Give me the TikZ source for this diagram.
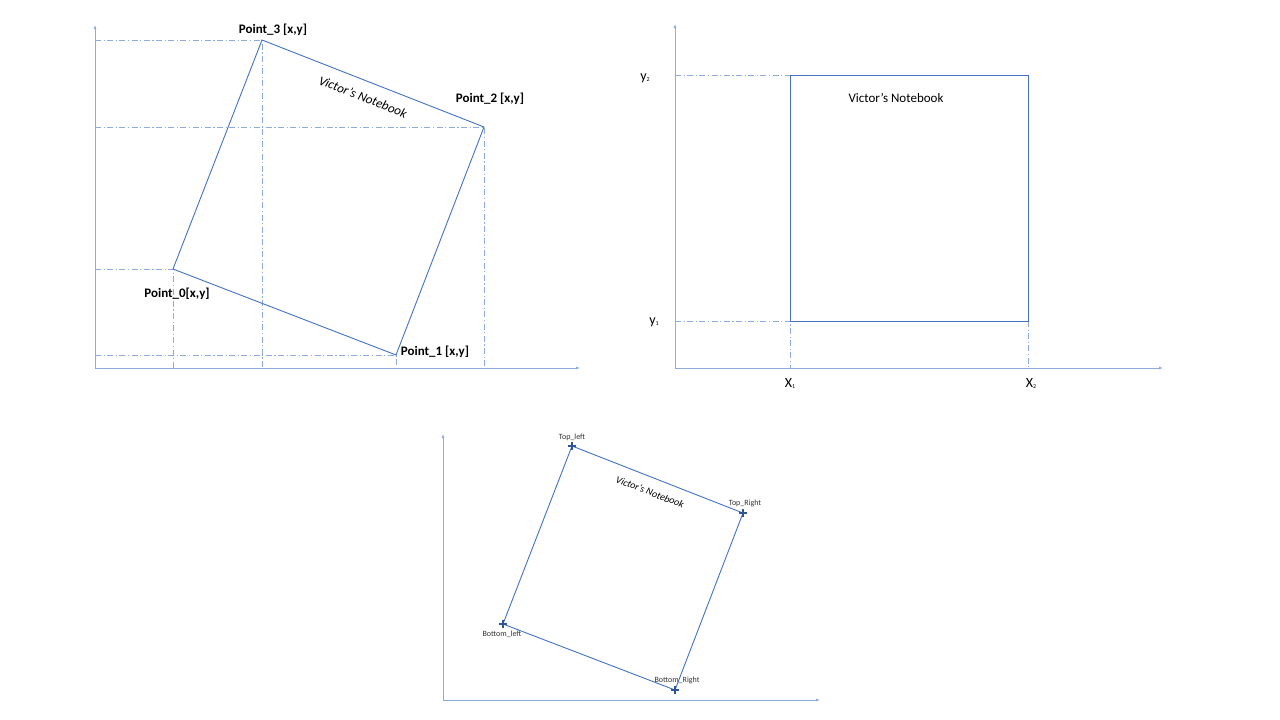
\documentclass[tikz,border=0pt]{standalone}
\usepackage{fontspec}
\setmainfont{Carlito}
\usetikzlibrary{arrows.meta,positioning}
\definecolor{VNblue}{RGB}{68,114,196}
\definecolor{VNlight}{RGB}{143,170,220}
\definecolor{VNdark}{RGB}{47,85,151}
\newcommand{\tinysub}[1]{\raisebox{-1pt}{\fontsize{6}{6}\selectfont #1}}
\tikzset{
  axes/.style={{Latex[length=4pt,width=3pt]}-{Latex[length=4pt,width=3pt]},line width=0.8pt,draw=VNlight},
  guide/.style={draw=VNlight,line width=0.8pt,dash pattern=on 6pt off 2.5pt on 1.2pt off 2.5pt},
  edge/.style={draw=VNblue,line width=0.9pt},
  cross/.style={draw=VNdark,line width=1.3pt},
  ptlabel/.style={font=\fontsize{13}{15}\selectfont\bfseries,text=black,inner sep=0pt},
  cornerlabel/.style={font=\fontsize{8}{9}\selectfont,text=black!80,inner sep=0pt},
  axlabel/.style={font=\fontsize{14}{16}\selectfont,text=black,inner sep=0pt},
  title/.style={font=\fontsize{13}{15}\selectfont,text=black,inner sep=0pt},
}

\begin{document}
\begin{tikzpicture}[x=1pt,y=-1pt]
    \useasboundingbox[fill=white] (0,0) rectangle (1280,720);
    % first panel: rotated notebook with its four points
    \coordinate (t1) at (95,25);
    \coordinate (o1) at (95,368);
    \coordinate (r1) at (580,368);
    \coordinate (p0) at (173,269);
    \coordinate (p1) at (396,355);
    \coordinate (p2) at (484,127);
    \coordinate (p3) at (262,40);
    \draw[guide] (p3 -| o1) -- (p3) -- (p3 |- o1);
    \draw[guide] (p2 -| o1) -- (p2) -- (p2 |- o1);
    \draw[guide] (p0 -| o1) -- (p0) -- (p0 |- o1);
    \draw[guide] (p1 -| o1) -- (p1) -- (p1 |- o1);
    \draw[axes] (t1) -- (o1) -- (r1);
    \draw[edge] (p0) -- (p1) -- (p2) -- (p3) -- cycle;
    \node[ptlabel] (l3) at (273,30) {Point\_3 [x,y]};
    \node[ptlabel] (l2) at (490,99) {Point\_2 [x,y]};
    \node[ptlabel] (l0) at (177,294) {Point\_0[x,y]};
    \node[ptlabel] (l1) at (435,352) {Point\_1 [x,y]};
    \node[title,font=\fontsize{13}{15}\selectfont\itshape,rotate=-21.3] (nb1) at (363,97) {Victor’s Notebook};

    % second panel: axis aligned box
    \coordinate (t2) at (675,24);
    \coordinate (o2) at (675,368);
    \coordinate (r2) at (1163,368);
    \coordinate (b2) at (790,321);
    \coordinate (c2) at (1028,75);
    \draw[guide] (c2 -| o2) -- (c2 -| b2);
    \draw[guide] (b2 -| o2) -- (b2) -- (b2 |- o2);
    \draw[guide] (c2 |- b2) -- (c2 |- o2);
    \draw[axes] (t2) -- (o2) -- (r2);
    \draw[edge,line width=0.8pt] (b2) rectangle (c2);
    \node[axlabel] (y2) at (645,78) {y\tinysub{2}};
    \node[axlabel] (y1) at (654,322) {y\tinysub{1}};
    \node[axlabel] (x1) at (790,384) {X\tinysub{1}};
    \node[axlabel] (x2) at (1031,384) {X\tinysub{2}};
    \node[title] (nb2) at (896,98) {Victor’s Notebook};

    % third panel: named corners
    \coordinate (t3) at (443,434);
    \coordinate (o3) at (443,700);
    \coordinate (r3) at (820,700);
    \coordinate (tl) at (572,446);
    \coordinate (tr) at (743,513);
    \coordinate (bl) at (503,624);
    \coordinate (br) at (675,690);
    \draw[axes] (t3) -- (o3) -- (r3);
    \draw[edge] (bl) -- (br) -- (tr) -- (tl) -- cycle;
    \foreach \c in {tl,tr,bl,br}
      \draw[cross] (\c) ++(-4,0) -- ++(8,0) (\c) ++(0,-4) -- ++(0,8);
    \node[cornerlabel] (ltl) at (572,437) {Top\_left};
    \node[cornerlabel] (ltr) at (745,503) {Top\_Right};
    \node[cornerlabel] (lbl) at (502,634) {Bottom\_left};
    \node[cornerlabel] (lbr) at (677,680) {Bottom\_Right};
    \node[title,font=\fontsize{10}{12}\selectfont\itshape,rotate=-21.3] (nb3) at (650,492) {Victor’s Notebook};
\end{tikzpicture}
\end{document}
